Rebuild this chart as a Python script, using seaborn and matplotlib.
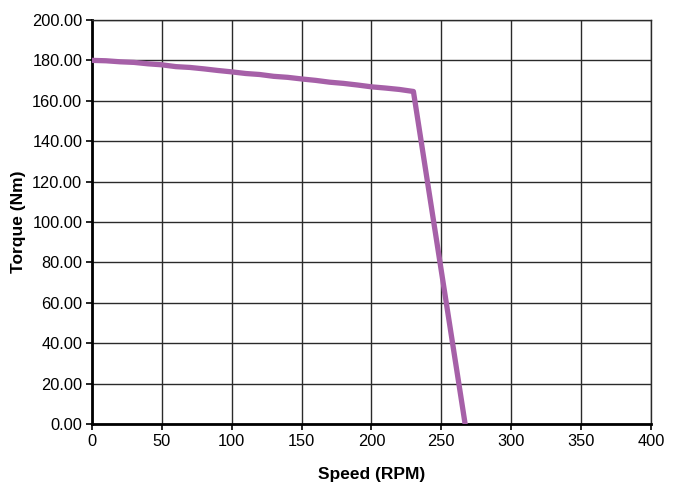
import matplotlib
matplotlib.use("Agg")
import matplotlib.pyplot as plt
import seaborn as sns
import pandas as pd
from matplotlib.ticker import FormatStrFormatter

speed = [0, 10, 20, 30, 40, 50, 60, 70, 80, 90, 100, 110, 120, 130, 140, 150,
         160, 170, 180, 190, 200, 210, 220, 230, 267]
torque = [180.0, 179.8, 179.3, 179.0, 178.3, 177.8, 176.9, 176.5, 175.8, 175.0,
          174.3, 173.5, 173.0, 172.1, 171.6, 170.8, 170.1, 169.2, 168.6, 167.8,
          166.9, 166.3, 165.6, 164.6, 0.0]
x_ticks = [0, 50, 100, 150, 200, 250, 300, 350, 400]
y_ticks = [0, 20, 40, 60, 80, 100, 120, 140, 160, 180, 200]

df = pd.DataFrame({"Speed": speed, "Torque": torque})

sns.set_theme(style="white")
plt.rcParams['font.family'] = ['Liberation Sans', 'DejaVu Sans']

fig = plt.figure(figsize=(6.76, 4.87), dpi=100)
ax = fig.add_axes([0.1361, 0.1294, 0.963 - 0.1361, 0.959 - 0.1294])

sns.lineplot(data=df, x="Speed", y="Torque", ax=ax, color="#a660a8",
             linewidth=3.8, sort=False, zorder=3)

ax.set_xlim(0, 400)
ax.set_ylim(0, 200)
ax.set_xticks(x_ticks)
ax.set_yticks(y_ticks)
ax.yaxis.set_major_formatter(FormatStrFormatter("%.2f"))
ax.grid(True, color="#2a2a2a", linewidth=1.0)
ax.set_axisbelow(True)

for s in ["top", "right"]:
    ax.spines[s].set_color("#2a2a2a")
    ax.spines[s].set_linewidth(1.0)
for s in ["left", "bottom"]:
    ax.spines[s].set_color("black")
    ax.spines[s].set_linewidth(2.0)

ax.tick_params(axis="both", direction="out", length=4, width=1.2, color="black",
               labelsize=11.8, labelcolor="black", pad=3)
ax.tick_params(axis="x", bottom=True)
ax.tick_params(axis="y", left=True)

ax.set_xlabel("Speed (RPM)", fontsize=12.5, fontweight="bold", color="black", labelpad=13)
ax.set_ylabel("Torque (Nm)", fontsize=12.5, fontweight="bold", color="black", labelpad=4)

fig.savefig("out.png", dpi=100, facecolor="white")
